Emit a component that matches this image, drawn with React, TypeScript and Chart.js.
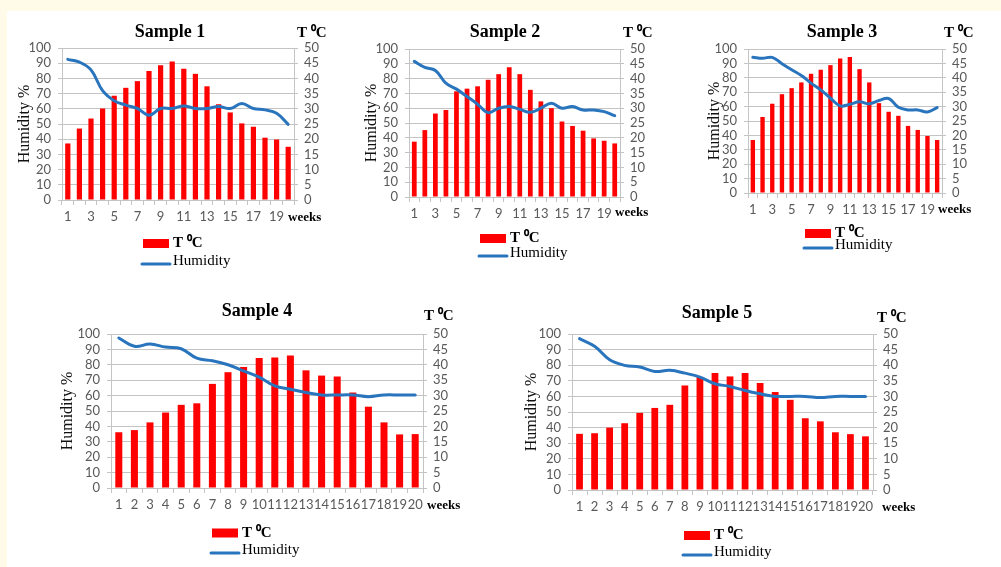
import React, { useEffect, useRef } from 'react';
import { Chart, registerables } from 'chart.js';

Chart.register(...registerables);

// ---------- data ----------
const weekLabels = ['1', '2', '3', '4', '5', '6', '7', '8', '9', '10', '11', '12', '13', '14', '15', '16', '17', '18', '19', '20'];

// Temperature (°C, right axis)
const temp1 = [18.6, 23.5, 26.8, 30.1, 34.3, 36.9, 39.1, 42.4, 44.3, 45.6, 43.2, 41.5, 37.4, 31.5, 28.8, 25.2, 24.1, 20.5, 19.9, 17.5];
const temp2 = [18.7, 22.6, 28.2, 29.4, 35.7, 36.6, 37.4, 39.6, 41.5, 43.8, 41.5, 36.2, 32.3, 30.0, 25.5, 24.0, 22.4, 19.8, 19.0, 18.1];
const temp3 = [18.4, 26.4, 31.0, 34.3, 36.4, 38.4, 41.4, 42.8, 44.4, 46.7, 47.2, 43.0, 38.4, 31.2, 28.2, 26.8, 23.3, 21.9, 19.8, 18.4];
const temp4 = [18.1, 18.8, 21.3, 24.5, 27.0, 27.5, 33.8, 37.6, 39.3, 42.2, 42.4, 43.0, 38.2, 36.5, 36.2, 31.0, 26.4, 21.3, 17.4, 17.5];
const temp5 = [18.0, 18.2, 20.0, 21.4, 24.7, 26.3, 27.3, 33.5, 36.2, 37.5, 36.4, 37.5, 34.3, 31.4, 28.9, 23.0, 22.0, 18.5, 17.9, 17.2];

// Humidity (%, left axis)
const hum1 = [92.5, 90.7, 85.6, 71.9, 65.3, 62.4, 60.2, 55.8, 60.2, 60.2, 61.9, 60.2, 60.2, 61.5, 60.2, 63.5, 60.2, 59.3, 57.1, 49.8];
const hum2 = [91.6, 87.6, 85.5, 76.9, 72.9, 67.9, 62.7, 57.0, 60.0, 61.1, 59.3, 57.2, 60.0, 63.3, 60.0, 61.1, 58.8, 58.8, 57.7, 55.0];
const hum3 = [94.2, 93.5, 94.2, 89.8, 85.6, 81.6, 76.3, 71.6, 65.8, 60.5, 61.6, 63.3, 61.9, 64.2, 65.6, 59.5, 57.7, 57.7, 56.3, 59.3];
const hum4 = [97.4, 92.0, 93.5, 91.5, 90.4, 84.3, 82.6, 80.0, 76.1, 72.0, 66.3, 64.1, 62.0, 60.4, 60.4, 60.4, 59.3, 60.4, 60.4, 60.4];
const hum5 = [97.0, 92.1, 83.5, 79.9, 78.8, 76.0, 76.7, 74.9, 72.4, 68.1, 66.4, 63.8, 61.7, 60.0, 60.0, 60.0, 59.3, 60.0, 60.0, 60.0];

const sampleTitles = ['Sample 1', 'Sample 2', 'Sample 3', 'Sample 4', 'Sample 5'];
const tempLabel = 'T \u2070C';
const humLabel = 'Humidity';
const yTitle = 'Humidity %';
const xUnit = 'weeks';

// ---------- styles / layout ----------
const W = 1001;
const H = 567;
const RED = '#ff0000';
const BLUE = '#2874bd';
const GRID = '#c4c4c4';
const TICK = '#595959';
const SANS = "Lato, 'Liberation Sans', sans-serif";
const SERIF = "'Liberation Serif', 'Times New Roman', serif";

type Layout = {
  left: number; right: number; top: number; bottom: number;
  yTitleX: number; titleX: number; titleY: number;
  unitX: number; unitY: number; weeksX: number; weeksY: number;
  legX: number; legY1: number; legY2: number; skipOdd: boolean;
};

const layouts: Layout[] = [
  { left: 62, right: 294, top: 48, bottom: 200, yTitleX: 25, titleX: 170, titleY: 32, unitX: 297, unitY: 33, weeksX: 288, weeksY: 218, legX: 142, legY1: 243.5, legY2: 264, skipOdd: true },
  { left: 409, right: 620, top: 49, bottom: 197, yTitleX: 372, titleX: 505, titleY: 32, unitX: 623, unitY: 33, weeksX: 615, weeksY: 213, legX: 479, legY1: 238.5, legY2: 256, skipOdd: true },
  { left: 748, right: 942, top: 49, bottom: 193, yTitleX: 715, titleX: 842, titleY: 32, unitX: 944, unitY: 33, weeksX: 938, weeksY: 210, legX: 804, legY1: 233.5, legY2: 248, skipOdd: true },
  { left: 111, right: 423, top: 334, bottom: 488, yTitleX: 68, titleX: 257, titleY: 311, unitX: 424, unitY: 316, weeksX: 427, weeksY: 506, legX: 211, legY1: 533, legY2: 553, skipOdd: false },
  { left: 572, right: 873, top: 334, bottom: 490, yTitleX: 532, titleX: 717, titleY: 313, unitX: 877, unitY: 318, weeksX: 882, weeksY: 508, legX: 683, legY1: 535.5, legY2: 555, skipOdd: false },
];

const temps = [temp1, temp2, temp3, temp4, temp5];
const hums = [hum1, hum2, hum3, hum4, hum5];

function makeDeco(L: Layout, title: string) {
  return {
    id: 'deco',
    afterDraw(chart: any) {
      const ctx = chart.ctx as CanvasRenderingContext2D;
      const ds = chart.data.datasets;
      ctx.save();
      ctx.textBaseline = 'middle';
      ctx.fillStyle = '#000';
      ctx.font = `bold 18px ${SERIF}`;
      ctx.textAlign = 'center';
      ctx.fillText(title, L.titleX, L.titleY);
      ctx.textAlign = 'left';
      ctx.font = `bold 15px ${SERIF}`;
      ctx.fillText(tempLabel, L.unitX, L.unitY);
      ctx.font = `bold 13px ${SERIF}`;
      ctx.fillText(xUnit, L.weeksX, L.weeksY);
      // legend
      ctx.fillStyle = RED;
      ctx.fillRect(L.legX + 1, L.legY1 - 4.5, 26, 9);
      ctx.fillStyle = '#000';
      ctx.font = `bold 15px ${SERIF}`;
      ctx.fillText(ds[1].label, L.legX + 31, L.legY1);
      ctx.strokeStyle = BLUE;
      ctx.lineWidth = 3;
      ctx.lineCap = 'round';
      ctx.beginPath();
      ctx.moveTo(L.legX, L.legY2);
      ctx.lineTo(L.legX + 28, L.legY2);
      ctx.stroke();
      ctx.font = `15px ${SERIF}`;
      ctx.fillText(ds[0].label, L.legX + 31, L.legY2 - 2.5);
      ctx.restore();
    },
  };
}

function SampleChart({ idx }: { idx: number }) {
  const ref = useRef<HTMLCanvasElement>(null);
  useEffect(() => {
    const L = layouts[idx];
    const padLeft = L.yTitleX - 9.6;
    const leftW = L.left - padLeft;
    const rightW = 40;
    const xH = 30;
    const tickFont = { family: SANS, size: 13 };
    const chart = new Chart(ref.current as HTMLCanvasElement, {
      type: 'bar',
      data: {
        labels: weekLabels,
        datasets: [
          {
            type: 'line',
            label: humLabel,
            data: hums[idx],
            yAxisID: 'y',
            borderColor: BLUE,
            borderWidth: 3,
            pointRadius: 0,
            tension: 0.4,
            borderCapStyle: 'round',
            borderJoinStyle: 'round',
            order: 0,
          } as any,
          {
            type: 'bar',
            label: tempLabel,
            data: temps[idx],
            yAxisID: 'y1',
            backgroundColor: RED,
            barPercentage: 0.45,
            categoryPercentage: 1,
            order: 1,
          } as any,
        ],
      },
      options: {
        animation: false,
        responsive: false,
        maintainAspectRatio: false,
        events: [],
        layout: {
          padding: { left: padLeft, top: L.top, right: W - L.right - rightW, bottom: H - L.bottom - xH },
        },
        plugins: {
          legend: { display: false },
          title: { display: false },
          tooltip: { enabled: false },
        },
        scales: {
          x: {
            type: 'category',
            offset: true,
            grid: { display: true, drawOnChartArea: false, drawTicks: true, tickLength: 5, offset: true, color: GRID },
            border: { display: true, color: GRID },
            ticks: {
              autoSkip: false,
              maxRotation: 0,
              minRotation: 0,
              padding: 4,
              color: TICK,
              font: tickFont,
              callback: (_v: any, i: number) => (L.skipOdd && i % 2 === 1 ? '' : weekLabels[i]),
            },
            afterFit: (s: any) => { s.height = xH; },
          },
          y: {
            position: 'left',
            min: 0,
            max: 100,
            ticks: { stepSize: 10, autoSkip: false, padding: 7, color: TICK, font: tickFont },
            grid: { color: GRID, tickLength: 4 },
            border: { display: true, color: GRID },
            title: { display: true, text: yTitle, color: '#111', font: { family: SERIF, size: 16 }, padding: 0 },
            afterFit: (s: any) => { s.width = leftW; },
          },
          y1: {
            position: 'right',
            min: 0,
            max: 50,
            ticks: { stepSize: 5, autoSkip: false, padding: 6, color: TICK, font: tickFont },
            grid: { drawOnChartArea: false, color: GRID, tickLength: 4 },
            border: { display: true, color: GRID },
            afterFit: (s: any) => { s.width = rightW; },
          },
        },
      } as any,
      plugins: [makeDeco(L, sampleTitles[idx])],
    });
    return () => chart.destroy();
  }, [idx]);
  return (
    <canvas
      ref={ref}
      width={W}
      height={H}
      style={{ position: 'absolute', left: 0, top: 0, width: W, height: H }}
    />
  );
}

export default function App() {
  return (
    <div style={{ position: 'absolute', left: 0, top: 0, width: W, height: H, background: '#fffbe8', overflow: 'hidden' }}>
      <div style={{ position: 'absolute', left: 7, top: 11, right: 0, bottom: 0, background: '#ffffff' }} />
      {[0, 1, 2, 3, 4].map((i) => (
        <SampleChart key={i} idx={i} />
      ))}
    </div>
  );
}
